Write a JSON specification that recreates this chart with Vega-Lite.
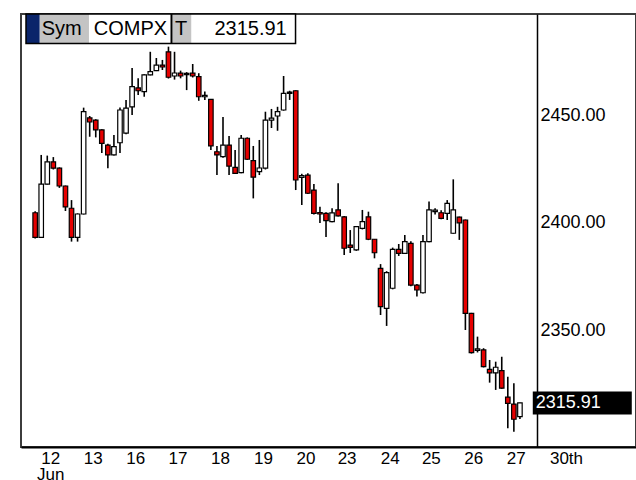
{
  "$schema": "https://vega.github.io/schema/vega-lite/v6.json",
  "width": 615,
  "height": 433,
  "autosize": {"type": "none"},
  "padding": {"left": 21, "top": 14, "right": 0, "bottom": 33},
  "background": "white",
  "config": {"view": {"stroke": "#3c3c3c", "strokeWidth": 2}, "font": "Liberation Sans"},
  "datasets": {
    "candles": [
      {"i":0,"open":2404.8,"high":2405.5,"low":2392.8,"close":2393.3},
      {"i":1,"open":2393.3,"high":2431.8,"low":2393.0,"close":2418.2},
      {"i":2,"open":2418.2,"high":2431.5,"low":2418.0,"close":2428.6},
      {"i":3,"open":2428.6,"high":2430.8,"low":2425.0,"close":2425.6},
      {"i":4,"open":2425.6,"high":2426.0,"low":2416.4,"close":2417.3},
      {"i":5,"open":2417.3,"high":2417.5,"low":2405.6,"close":2407.5},
      {"i":6,"open":2406.9,"high":2410.7,"low":2391.3,"close":2393.3},
      {"i":7,"open":2393.3,"high":2404.5,"low":2391.3,"close":2404.2},
      {"i":8,"open":2404.2,"high":2453.9,"low":2404.0,"close":2452.0},
      {"i":9,"open":2449.1,"high":2450.0,"low":2440.3,"close":2447.2},
      {"i":10,"open":2448.1,"high":2448.5,"low":2440.0,"close":2443.5},
      {"i":11,"open":2443.5,"high":2443.8,"low":2432.7,"close":2437.2},
      {"i":12,"open":2436.4,"high":2437.0,"low":2425.6,"close":2431.8},
      {"i":13,"open":2431.8,"high":2441.1,"low":2431.5,"close":2435.7},
      {"i":14,"open":2437.5,"high":2454.0,"low":2432.7,"close":2452.8},
      {"i":15,"open":2442.0,"high":2457.5,"low":2441.5,"close":2453.7},
      {"i":16,"open":2454.3,"high":2472.4,"low":2450.5,"close":2463.7},
      {"i":17,"open":2463.1,"high":2467.6,"low":2459.8,"close":2461.8},
      {"i":18,"open":2461.4,"high":2469.5,"low":2459.0,"close":2469.2},
      {"i":19,"open":2469.2,"high":2480.0,"low":2469.0,"close":2470.7},
      {"i":20,"open":2471.2,"high":2477.1,"low":2471.0,"close":2473.8},
      {"i":21,"open":2473.8,"high":2476.2,"low":2471.5,"close":2472.9},
      {"i":22,"open":2480.0,"high":2482.4,"low":2467.5,"close":2468.1},
      {"i":23,"open":2468.7,"high":2480.0,"low":2467.0,"close":2470.1},
      {"i":24,"open":2470.0,"high":2471.2,"low":2467.6,"close":2468.7},
      {"i":25,"open":2469.3,"high":2470.5,"low":2462.1,"close":2469.9},
      {"i":26,"open":2470.0,"high":2474.3,"low":2468.0,"close":2468.7},
      {"i":27,"open":2468.4,"high":2470.0,"low":2457.1,"close":2459.0},
      {"i":28,"open":2459.0,"high":2461.4,"low":2457.5,"close":2459.6},
      {"i":29,"open":2457.8,"high":2458.0,"low":2434.1,"close":2436.0},
      {"i":30,"open":2433.3,"high":2436.0,"low":2422.4,"close":2431.8},
      {"i":31,"open":2431.0,"high":2449.5,"low":2430.5,"close":2436.4},
      {"i":32,"open":2436.4,"high":2440.7,"low":2422.4,"close":2426.6},
      {"i":33,"open":2426.0,"high":2434.1,"low":2423.0,"close":2423.2},
      {"i":34,"open":2423.5,"high":2441.1,"low":2423.2,"close":2439.6},
      {"i":35,"open":2439.6,"high":2440.0,"low":2429.5,"close":2429.8},
      {"i":36,"open":2429.1,"high":2436.0,"low":2411.5,"close":2421.4},
      {"i":37,"open":2424.0,"high":2438.8,"low":2422.4,"close":2425.7},
      {"i":38,"open":2425.6,"high":2452.0,"low":2425.0,"close":2448.1},
      {"i":39,"open":2448.1,"high":2453.3,"low":2444.4,"close":2449.0},
      {"i":40,"open":2450.0,"high":2454.3,"low":2443.1,"close":2452.0},
      {"i":41,"open":2452.8,"high":2468.7,"low":2452.5,"close":2460.6},
      {"i":42,"open":2460.6,"high":2461.8,"low":2457.5,"close":2461.2},
      {"i":43,"open":2461.8,"high":2462.0,"low":2415.4,"close":2420.1},
      {"i":44,"open":2421.3,"high":2423.0,"low":2408.4,"close":2422.1},
      {"i":45,"open":2422.4,"high":2423.2,"low":2413.5,"close":2413.9},
      {"i":46,"open":2415.4,"high":2418.2,"low":2404.0,"close":2404.5},
      {"i":47,"open":2404.9,"high":2407.6,"low":2400.0,"close":2404.2},
      {"i":48,"open":2404.5,"high":2405.0,"low":2393.5,"close":2401.1},
      {"i":49,"open":2400.6,"high":2406.9,"low":2400.3,"close":2404.7},
      {"i":50,"open":2406.1,"high":2418.6,"low":2403.0,"close":2403.3},
      {"i":51,"open":2402.9,"high":2403.3,"low":2385.0,"close":2388.2},
      {"i":52,"open":2389.7,"high":2396.7,"low":2386.0,"close":2388.6},
      {"i":53,"open":2387.4,"high":2398.5,"low":2387.0,"close":2398.3},
      {"i":54,"open":2397.5,"high":2406.1,"low":2397.0,"close":2400.6},
      {"i":55,"open":2402.9,"high":2405.3,"low":2392.0,"close":2392.4},
      {"i":56,"open":2392.4,"high":2392.5,"low":2383.5,"close":2386.1},
      {"i":57,"open":2378.8,"high":2380.8,"low":2357.0,"close":2360.9},
      {"i":58,"open":2360.1,"high":2377.5,"low":2351.9,"close":2376.8},
      {"i":59,"open":2369.5,"high":2388.5,"low":2369.0,"close":2387.7},
      {"i":60,"open":2387.7,"high":2390.2,"low":2384.6,"close":2385.8},
      {"i":61,"open":2385.8,"high":2394.4,"low":2385.5,"close":2391.3},
      {"i":62,"open":2390.5,"high":2391.5,"low":2370.5,"close":2371.0},
      {"i":63,"open":2371.0,"high":2371.5,"low":2365.6,"close":2368.7},
      {"i":64,"open":2367.4,"high":2394.4,"low":2367.0,"close":2391.3},
      {"i":65,"open":2391.3,"high":2410.0,"low":2391.0,"close":2406.1},
      {"i":66,"open":2405.3,"high":2406.9,"low":2404.0,"close":2406.0},
      {"i":67,"open":2404.8,"high":2406.0,"low":2401.8,"close":2402.2},
      {"i":68,"open":2404.5,"high":2410.7,"low":2401.4,"close":2409.2},
      {"i":69,"open":2395.2,"high":2420.4,"low":2395.0,"close":2406.1},
      {"i":70,"open":2402.7,"high":2403.0,"low":2392.1,"close":2400.1},
      {"i":71,"open":2401.4,"high":2401.6,"low":2350.0,"close":2357.8},
      {"i":72,"open":2357.8,"high":2358.0,"low":2339.0,"close":2339.4},
      {"i":73,"open":2340.5,"high":2346.9,"low":2339.5,"close":2341.2},
      {"i":74,"open":2340.7,"high":2341.5,"low":2332.5,"close":2332.9},
      {"i":75,"open":2331.6,"high":2336.0,"low":2325.4,"close":2330.0},
      {"i":76,"open":2330.0,"high":2335.2,"low":2322.0,"close":2332.6},
      {"i":77,"open":2331.0,"high":2337.5,"low":2322.5,"close":2322.8},
      {"i":78,"open":2318.6,"high":2328.2,"low":2304.1,"close":2315.7},
      {"i":79,"open":2315.4,"high":2325.1,"low":2302.5,"close":2308.3},
      {"i":80,"open":2309.5,"high":2316.0,"low":2308.4,"close":2315.91}
    ]
  },
  "data": {"name": "candles"},
  "layer": [
    {
      "mark": {"type": "rule", "color": "black", "strokeWidth": 1.6},
      "encoding": {
        "x": {
          "field": "i", "type": "quantitative",
          "scale": {"domain": [-1.51, 98.33], "nice": false, "zero": false},
          "axis": {
            "orient": "bottom", "title": null, "grid": false, "ticks": false,
            "domainColor": "black", "domainWidth": 2,
            "values": [2.5, 9.5, 16.5, 23.5, 30.5, 37.6, 44.6, 51.4, 58.5, 65.3, 72.3, 79.3, 87.6],
            "labelExpr": "datum.value < 3 ? ['12', 'Jun'] : datum.value > 85 ? '30th' : ['12','13','16','17','18','19','20','23','24','25','26','27'][round((datum.value - 2.5) / 7)]",
            "labelFontSize": 17, "labelColor": "black", "labelPadding": 3, "labelLineHeight": 16,
            "labelOverlap": false, "labelFlush": false, "labelFont": "Liberation Sans"
          }
        },
        "y": {
          "field": "low", "type": "quantitative",
          "scale": {"domain": [2295.33, 2497.66], "nice": false, "zero": false},
          "axis": {
            "orient": "right", "offset": -99, "title": null, "grid": false, "ticks": false,
            "domainColor": "black", "domainWidth": 1.5,
            "values": [2350, 2400, 2450], "format": ".2f",
            "labelFontSize": 18, "labelColor": "black", "labelPadding": 3, "labelAlign": "left",
            "labelBaseline": "middle", "labelFont": "Liberation Sans"
          }
        },
        "y2": {"field": "high"}
      }
    },
    {
      "mark": {"type": "bar", "size": 4.5, "stroke": "black", "strokeWidth": 1.2},
      "encoding": {
        "x": {"field": "i", "type": "quantitative"},
        "y": {"field": "open", "type": "quantitative"},
        "y2": {"field": "close"},
        "fill": {"condition": {"test": "datum.close < datum.open", "value": "#e60000"}, "value": "white"}
      }
    },
    {
      "transform": [{"filter": "datum.i == 80"}],
      "mark": {"type": "tick", "orient": "horizontal", "color": "black", "size": 99, "thickness": 23, "opacity": 1},
      "encoding": {
        "x": {"datum": 90.29, "type": "quantitative"},
        "y": {"field": "close", "type": "quantitative"}
      }
    },
    {
      "transform": [{"filter": "datum.i == 80"}],
      "mark": {"type": "text", "align": "left", "baseline": "middle", "color": "white", "fontSize": 18, "font": "Liberation Sans"},
      "encoding": {
        "x": {"datum": 82.6, "type": "quantitative"},
        "y": {"field": "close", "type": "quantitative"},
        "text": {"field": "close", "type": "quantitative", "format": ".2f"}
      }
    },
    {
      "transform": [{"filter": "datum.i == 80"}],
      "mark": {"type": "rect", "color": "white", "opacity": 1},
      "encoding": {
        "x": {"datum": -1.51, "type": "quantitative"}, "x2": {"datum": 42.97},
        "y": {"datum": 2497.66, "type": "quantitative"}, "y2": {"datum": 2483.88}
      }
    },
    {
      "transform": [{"filter": "datum.i == 80"}],
      "mark": {"type": "rect", "color": "#0a246a", "opacity": 1},
      "encoding": {
        "x": {"datum": -1.51, "type": "quantitative"}, "x2": {"datum": 0.76},
        "y": {"datum": 2497.66, "type": "quantitative"}, "y2": {"datum": 2483.88}
      }
    },
    {
      "transform": [{"filter": "datum.i == 80"}],
      "mark": {"type": "rect", "color": "#c4c4c4", "opacity": 1},
      "encoding": {
        "x": {"datum": 0.76, "type": "quantitative"}, "x2": {"datum": 8.88},
        "y": {"datum": 2497.66, "type": "quantitative"}, "y2": {"datum": 2483.88}
      }
    },
    {
      "transform": [{"filter": "datum.i == 80"}],
      "mark": {"type": "rect", "color": "#c4c4c4", "opacity": 1},
      "encoding": {
        "x": {"datum": 22.68, "type": "quantitative"}, "x2": {"datum": 25.76},
        "y": {"datum": 2497.66, "type": "quantitative"}, "y2": {"datum": 2483.88}
      }
    },
    {
      "transform": [{"filter": "datum.i == 80"}],
      "mark": {"type": "rect", "fillOpacity": 0, "stroke": "black", "strokeWidth": 1.5},
      "encoding": {
        "x": {"datum": -1.51, "type": "quantitative"}, "x2": {"datum": 42.97},
        "y": {"datum": 2497.66, "type": "quantitative"}, "y2": {"datum": 2483.88}
      }
    },
    {
      "transform": [{"filter": "datum.i == 80"}],
      "mark": {"type": "rule", "color": "black", "strokeWidth": 2},
      "encoding": {
        "x": {"datum": 22.5, "type": "quantitative"},
        "y": {"datum": 2497.66, "type": "quantitative"}, "y2": {"datum": 2483.88}
      }
    },
    {
      "transform": [{"filter": "datum.i == 80"}],
      "mark": {"type": "text", "text": "Sym", "align": "left", "baseline": "middle", "fontSize": 20, "color": "black", "font": "Liberation Sans"},
      "encoding": {
        "x": {"datum": 1.09, "type": "quantitative"},
        "y": {"datum": 2490.65, "type": "quantitative"}
      }
    },
    {
      "transform": [{"filter": "datum.i == 80"}],
      "mark": {"type": "text", "text": "COMPX", "align": "left", "baseline": "middle", "fontSize": 20, "color": "black", "font": "Liberation Sans"},
      "encoding": {
        "x": {"datum": 9.69, "type": "quantitative"},
        "y": {"datum": 2490.65, "type": "quantitative"}
      }
    },
    {
      "transform": [{"filter": "datum.i == 80"}],
      "mark": {"type": "text", "text": "T", "align": "left", "baseline": "middle", "fontSize": 20, "color": "black", "font": "Liberation Sans"},
      "encoding": {
        "x": {"datum": 23.08, "type": "quantitative"},
        "y": {"datum": 2490.65, "type": "quantitative"}
      }
    },
    {
      "transform": [{"filter": "datum.i == 80"}],
      "mark": {"type": "text", "align": "right", "baseline": "middle", "fontSize": 20, "color": "black", "font": "Liberation Sans"},
      "encoding": {
        "x": {"datum": 41.51, "type": "quantitative"},
        "y": {"datum": 2490.65, "type": "quantitative"},
        "text": {"field": "close", "type": "quantitative", "format": ".2f"}
      }
    }
  ]
}
